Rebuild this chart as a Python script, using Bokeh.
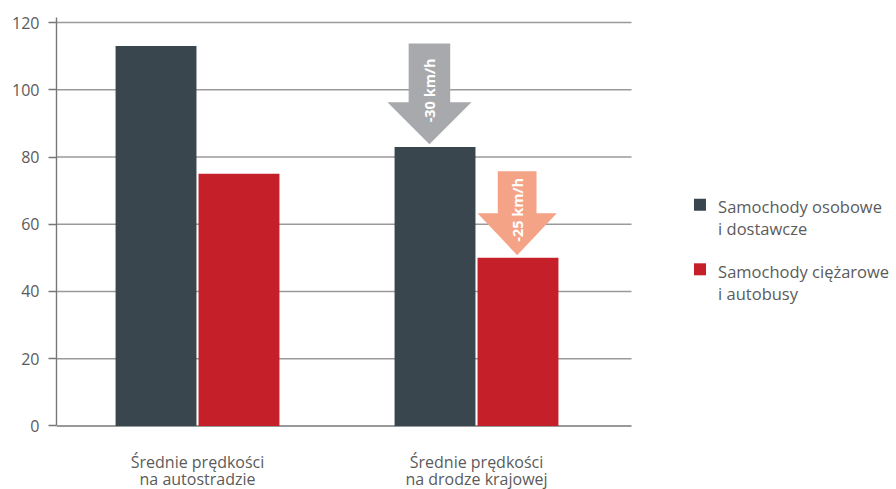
from math import pi

from bokeh.core.properties import value
from bokeh.embed import file_html
from bokeh.models import ColumnDataSource, FixedTicker, Range1d
from bokeh.plotting import figure
from bokeh.resources import INLINE

# --- data -------------------------------------------------------------
groups = ["Średnie prędkości\nna autostradzie", "Średnie prędkości\nna drodze krajowej"]
series = ["Samochody osobowe\ni dostawcze", "Samochody ciężarowe\ni autobusy"]
cars = [113, 83]        # km/h
trucks = [75, 50]       # km/h
drops = [30, 25]        # km/h, reduction on the national road
drop_labels = ["-30 km/h", "-25 km/h"]
y_ticks = [0, 20, 40, 60, 80, 100, 120]

# --- styling ----------------------------------------------------------
FONT = "Open Sans"
TEXT_GREY = "#5b5b5b"
LINE_GREY = "#777777"
GRID_GREY = "#9a9a9a"
series_colors = ["#3a464e", "#c5202a"]
arrow_colors = ["#a8a9ad", "#f5a386"]

bar_w = 0.29
bar_off = 0.1487
x_start, x_end = 0.4946, 3.5054
grid_end = 2.5556
y_top = 121.5
y_bottom = -18.9   # room for the category captions under the baseline

p = figure(
    width=896, height=489,
    x_range=Range1d(x_start, x_end), y_range=Range1d(y_bottom, y_top),
    x_axis_type=None,
    output_backend="svg", toolbar_location=None,
    min_border_left=56, min_border_right=0, min_border_top=17, min_border_bottom=0,
)
p.outline_line_color = None
p.grid.visible = False
p.background_fill_color = "white"
p.border_fill_color = "white"

# horizontal grid lines stop at the end of the plotting area
grid_src = ColumnDataSource(dict(
    x0=[x_start] * (len(y_ticks) - 1), x1=[grid_end] * (len(y_ticks) - 1), y=y_ticks[1:]))
p.segment(x0="x0", y0="y", x1="x1", y1="y", source=grid_src,
          line_color=GRID_GREY, line_width=1.4)
p.segment(x0=[x_start], y0=[0], x1=[grid_end], y1=[0], line_color=LINE_GREY, line_width=1.6)

# bars
centers = [i + 1 for i in range(len(groups))]
for values, color, off in ((cars, series_colors[0], -bar_off), (trucks, series_colors[1], bar_off)):
    p.vbar(x=[c + off for c in centers], top=values, width=bar_w,
           fill_color=color, line_color=None)

# arrows showing the drop between road types
gap = 0.8
head_h = 12.5
shaft_hw = [0.0745, 0.0695]
head_hw = [0.1505, 0.142]
dx = [-0.02, -0.003]
for k, (values, off) in enumerate(((cars, -bar_off), (trucks, bar_off))):
    cx = centers[1] + off + dx[k]
    top = values[0] + gap
    tip = values[0] - drops[k] + gap
    neck = tip + head_h
    xs = [cx - shaft_hw[k], cx + shaft_hw[k], cx + shaft_hw[k], cx + head_hw[k],
          cx, cx - head_hw[k], cx - shaft_hw[k]]
    ys = [top, top, neck, neck, tip, neck, neck]
    p.patch(xs, ys, fill_color=arrow_colors[k], line_color=None)
    p.text(x=[cx], y=[(top + tip) / 2 + 1.0], text=[drop_labels[k]], angle=pi / 2,
           text_align="center", text_baseline="middle", text_color="white",
           text_font=value(FONT), text_font_style="bold", text_font_size="14.5px")

# legend
leg_sq_x = 2.801
leg_tx = 2.866
leg_sq_y = [65.8, 46.6]
leg_line_y = [[65.2, 58.8], [45.9, 39.5]]
for k, name in enumerate(series):
    p.scatter(x=[leg_sq_x], y=[leg_sq_y[k]], marker="square", size=12,
              fill_color=series_colors[k], line_color=None)
    for j, line in enumerate(name.split("\n")):
        p.text(x=[leg_tx], y=[leg_line_y[k][j]], text=[line], text_align="left",
               text_baseline="middle", text_color=TEXT_GREY,
               text_font=value(FONT), text_font_size="16.5px")

# category captions under the bars, one text per line (alphabetic baselines)
caption_y = [-10.6, -15.9]
for c, g in zip(centers, groups):
    for j, line in enumerate(g.split("\n")):
        p.text(x=[c], y=[caption_y[j]], text=[line], text_align="center",
               text_baseline="alphabetic", text_color=TEXT_GREY,
               text_font=value(FONT), text_font_size="16px")

# value axis, its line limited to the 0..top span
ya = p.yaxis[0]
ya.ticker = FixedTicker(ticks=y_ticks)
ya.bounds = (0, y_top)
ya.axis_line_color = LINE_GREY
ya.axis_line_width = 1.4
ya.major_tick_line_color = LINE_GREY
ya.major_tick_line_width = 1.4
ya.major_tick_out = 8
ya.major_tick_in = 0
ya.minor_tick_line_color = None
ya.major_label_standoff = 9
ya.major_label_text_font = FONT
ya.major_label_text_font_size = "16px"
ya.major_label_text_color = TEXT_GREY

open("out.html", "w").write(file_html(p, INLINE))
